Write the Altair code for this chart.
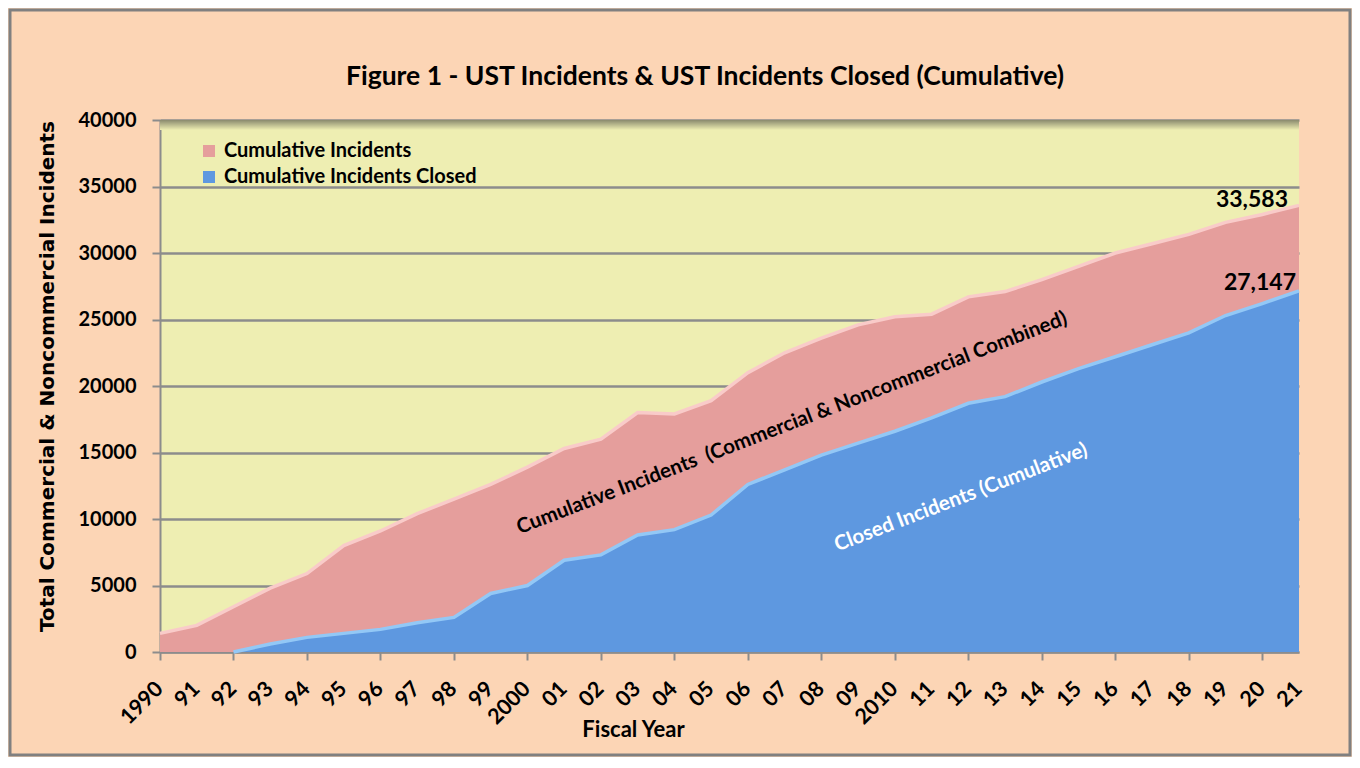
import altair as alt
import pandas as pd

years = list(range(1990, 2022))
tick_labels = ["1990", "91", "92", "93", "94", "95", "96", "97", "98", "99",
               "2000", "01", "02", "03", "04", "05", "06", "07", "08", "09",
               "2010", "11", "12", "13", "14", "15", "16", "17", "18", "19",
               "20", "21"]
total = [1400, 2000, 3400, 4800, 5900, 8000, 9100, 10400, 11500, 12600,
         13900, 15300, 16000, 18000, 17900, 18900, 21000, 22500, 23600, 24600,
         25200, 25400, 26700, 27100, 28000, 29000, 30000, 30700, 31400, 32300,
         32900, 33583]
closed = [0, 0, 0, 600, 1100, 1400, 1700, 2200, 2600, 4400,
          5000, 6900, 7300, 8800, 9200, 10300, 12600, 13700, 14800, 15700,
          16600, 17600, 18700, 19200, 20300, 21300, 22200, 23100, 24000, 25300,
          26200, 27147]
series_names = ["Cumulative Incidents", "Cumulative Incidents Closed"]
y_ticks = [0, 5000, 10000, 15000, 20000, 25000, 30000, 35000, 40000]

title_text = "Figure 1 - UST Incidents & UST Incidents Closed (Cumulative)"
ann_text = ["Cumulative Incidents\u00a0 (Commercial & Noncommercial Combined)",
            "Closed Incidents (Cumulative)"]
ann_year = [2007.2, 2011.8]
ann_value = [17200, 11600]

PEACH = "#FCD5B5"
YELLOW = "#EEEEB2"
PINK = "#E59E9C"
BLUE = "#5E98E0"
GRID = "#8C8C8C"
FONT = "Lato"

df = pd.DataFrame({"year": years, "total": total, "closed": closed,
                   "label": tick_labels})
ann = pd.DataFrame({"text": ann_text, "year": ann_year, "value": ann_value})

x_enc = alt.X(
    "year:Q",
    scale=alt.Scale(domain=[1990, 2021], nice=False, zero=False),
    axis=alt.Axis(
        values=years, labels=False, grid=False,
        title="Fiscal Year", titleFont=FONT, titleFontSize=22, titleFontWeight="bold",
        titleColor="black", titleX=473, titleY=67, titleAnchor="middle",
        tickSize=8, tickWidth=2, tickColor=GRID,
        domainColor=GRID, domainWidth=2,
    ),
)
y_axis = alt.Axis(
    values=y_ticks, format="d", grid=True, gridColor=GRID, gridWidth=2.5,
    title="Total Commercial & Noncommercial Incidents",
    titleFont="DejaVu Sans", titleFontSize=20, titleFontWeight="bold", titleColor="black",
    titleAngle=270, titleBaseline="middle", titleAlign="center",
    titleX=-113, titleY=256,
    labelFont=FONT, labelFontSize=20, labelFontWeight="bold", labelColor="black",
    labelPadding=16, tickSize=8, tickWidth=2, tickColor=GRID,
    domainColor=GRID, domainWidth=2,
)
y_scale = alt.Scale(domain=[0, 40000], nice=False)

color_enc_legend = alt.Legend(
    orient="none", legendX=39, legendY=21, title=None, symbolType="square",
    symbolSize=144, symbolStrokeWidth=0, labelFont=FONT, labelFontSize=20,
    labelFontWeight="bold", labelColor="black", rowPadding=6, labelOffset=5,
    labelLimit=400,
)
color_scale = alt.Scale(domain=series_names, range=[PINK, BLUE])

base = alt.Chart(df)

shadow = alt.Chart(pd.DataFrame({"a": [0]})).mark_rect(
    color=alt.Gradient(
        gradient="linear", x1=0, y1=0, x2=0, y2=1,
        stops=[alt.GradientStop(offset=0, color="#8A8A6E"),
               alt.GradientStop(offset=1, color=YELLOW)],
    )
).encode(x=alt.value(0), x2=alt.value(1139), y=alt.value(0), y2=alt.value(10))

pink_area = base.mark_area(opacity=1).encode(
    x=x_enc,
    y=alt.Y("total:Q", scale=y_scale, axis=y_axis),
    color=alt.Color("s:N", scale=color_scale, legend=color_enc_legend),
).transform_calculate(s="'%s'" % series_names[0])

pink_edge = base.mark_line(color="#F9CBC9", strokeWidth=3.5).encode(
    x="year:Q", y="total:Q"
)

blue_area = base.mark_area(opacity=1).encode(
    x="year:Q",
    y="closed:Q",
    color=alt.Color("s:N", scale=color_scale, legend=color_enc_legend),
).transform_calculate(s="'%s'" % series_names[1])

blue_edge = base.mark_line(color="#93C8F6", strokeWidth=3.5).transform_filter(
    "datum.year >= 1992"
).encode(x="year:Q", y="closed:Q")

x_labels = base.mark_text(
    angle=315, align="right", baseline="middle", font=FONT, fontSize=21.5,
    fontWeight="bold", color="black",
).encode(x="year:Q", y=alt.value(566), text="label:N")

last = base.transform_filter("datum.year == 2021")
lab_total = last.mark_text(
    align="right", baseline="alphabetic", dx=-11, dy=2, font=FONT,
    fontSize=23, fontWeight="bold", color="black",
).encode(x="year:Q", y="total:Q", text=alt.Text("total:Q", format=","))
lab_closed = last.mark_text(
    align="right", baseline="alphabetic", dx=-3, dy=-1, font=FONT,
    fontSize=23, fontWeight="bold", color="black",
).encode(x="year:Q", y="closed:Q", text=alt.Text("closed:Q", format=","))

ann_chart = alt.Chart(ann)
ann_pink = ann_chart.transform_filter("datum.year < 2010").mark_text(
    angle=339, font=FONT, fontSize=20.5, fontWeight="bold", color="black",
).encode(x="year:Q", y="value:Q", text="text:N")
ann_blue = ann_chart.transform_filter("datum.year > 2010").mark_text(
    angle=339, font=FONT, fontSize=20.5, fontWeight="bold", color="white",
).encode(x="year:Q", y="value:Q", text="text:N")

frame = alt.Chart(pd.DataFrame({"a": [0]})).mark_rect(
    filled=False, stroke="#808080", strokeWidth=3
).encode(
    x=alt.value(-150), x2=alt.value(1139 + 51),
    y=alt.value(-110), y2=alt.value(532 + 103),
)

title = alt.Chart(pd.DataFrame({"t": [title_text]})).mark_text(
    font=FONT, fontSize=26.5, fontWeight="bold", color="black",
    align="center", baseline="middle",
).encode(x=alt.value(545), y=alt.value(-43), text="t:N")

chart = alt.layer(
    shadow, pink_area, pink_edge, blue_area, blue_edge, x_labels,
    lab_total, lab_closed, ann_pink, ann_blue, frame, title,
).properties(
    width=1139, height=532,
    padding={"left": 152, "top": 112, "right": 53, "bottom": 105},
    autosize=alt.AutoSizeParams(type="none"),
    background=PEACH,
).configure_view(fill=YELLOW, stroke=None)

chart.save("out.html", embed_options={"renderer": "svg", "actions": False})
